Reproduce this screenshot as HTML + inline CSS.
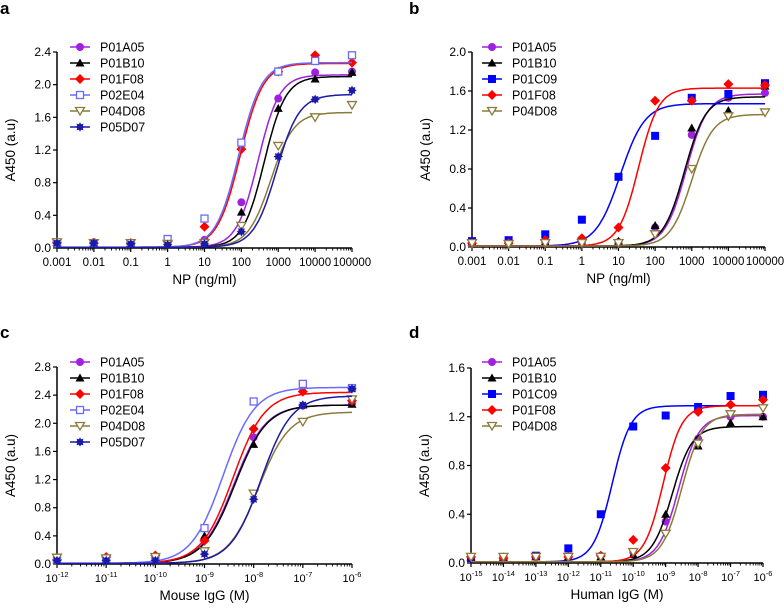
<!DOCTYPE html>
<html><head><meta charset="utf-8">
<style>
html,body{margin:0;padding:0;background:#fff;}
svg{display:block;font-family:"Liberation Sans",Arial,sans-serif;}
</style></head>
<body>
<svg id="chart" width="784" height="609" viewBox="0 0 784 609" xmlns="http://www.w3.org/2000/svg"></svg>
<script>
// ---------- Panel a data ----------
const aXs = [-3,-2,-1,0,1,2,3,4,5];
const aNames = ["P01A05","P01B10","P01F08","P02E04","P04D08","P05D07"];
const aVals = [
 [0.07,0.07,0.06,0.06,0.10,0.56,1.83,2.15,2.16],
 [0.07,0.06,0.06,0.05,0.05,0.44,1.71,2.07,2.15],
 [0.07,0.06,0.06,0.08,0.26,1.21,2.16,2.36,2.27],
 [0.06,0.06,0.06,0.11,0.36,1.29,2.16,2.29,2.36],
 [0.07,0.06,0.06,0.05,0.06,0.27,1.25,1.60,1.75],
 [0.06,0.06,0.05,0.04,0.05,0.20,1.12,1.82,1.93]];
const aTops = [2.12,2.10,2.26,2.27,1.66,1.88];
const aEC50 = [2.45,2.62,1.97,1.93,2.8,2.95];
const aHill = [1.5,1.5,1.4,1.4,1.4,1.4];
const aXLabels = ["0.001","0.01","0.1","1","10","100","1000","10000","100000"];
const aYTicks = [0,0.4,0.8,1.2,1.6,2.0,2.4];
// ---------- Panel b data ----------
const bXs = [-3,-2,-1,0,1,2,3,4,5];
const bNames = ["P01A05","P01B10","P01C09","P01F08","P04D08"];
const bVals = [
 [0.05,0.04,0.05,0.04,0.05,0.20,1.15,1.53,1.58],
 [0.05,0.04,0.05,0.04,0.06,0.22,1.22,1.40,1.65],
 [0.06,0.07,0.13,0.28,0.72,1.14,1.53,1.57,1.68],
 [0.04,0.04,0.07,0.09,0.20,1.50,1.50,1.67,1.66],
 [0.04,0.03,0.04,0.04,0.04,0.13,0.80,1.34,1.38]];
const bTops = [1.57,1.54,1.47,1.63,1.36];
const bEC50 = [2.85,2.8,1.05,1.55,3.0];
const bHill = [1.5,1.5,1.3,1.6,1.5];
const bXLabels = ["0.001","0.01","0.1","1","10","100","1000","10000","100000"];
const bYTicks = [0,0.4,0.8,1.2,1.6,2.0];
// ---------- Panel c data ----------
const cXs = [-12,-11,-10,-9,-8,-7,-6];
const cNames = ["P01A05","P01B10","P01F08","P02E04","P04D08","P05D07"];
const cVals = [
 [0.07,0.08,0.10,0.35,1.80,2.25,2.28],
 [0.06,0.06,0.08,0.40,1.70,2.26,2.27],
 [0.06,0.10,0.12,0.33,1.92,2.45,2.32],
 [0.06,0.06,0.08,0.51,2.31,2.56,2.50],
 [0.09,0.08,0.10,0.18,1.00,2.02,2.34],
 [0.05,0.05,0.05,0.14,0.92,2.26,2.49]];
const cTops = [2.26,2.26,2.44,2.51,2.16,2.39];
const cEC50 = [-8.4,-8.38,-8.42,-8.62,-7.9,-7.85];
const cHill = [1.35,1.35,1.35,1.35,1.4,1.4];
const cXLabels = ["-12","-11","-10","-9","-8","-7","-6"];
const cYTicks = [0,0.4,0.8,1.2,1.6,2.0,2.4,2.8];
// ---------- Panel d data ----------
const dXs = [-15,-14,-13,-12,-11,-10,-9,-8,-7,-6];
const dNames = ["P01A05","P01B10","P01C09","P01F08","P04D08"];
const dVals = [
 [0.05,0.05,0.05,0.05,0.06,0.09,0.34,1.02,1.20,1.20],
 [0.05,0.05,0.05,0.05,0.05,0.07,0.40,0.96,1.15,1.20],
 [0.04,0.04,0.06,0.12,0.40,1.12,1.21,1.28,1.37,1.38],
 [0.05,0.04,0.05,0.05,0.06,0.19,0.78,1.24,1.30,1.34],
 [0.05,0.05,0.05,0.05,0.05,0.09,0.24,0.98,1.22,1.27]];
const dTops = [1.21,1.12,1.29,1.29,1.22];
const dEC50 = [-8.6,-8.8,-10.65,-9.08,-8.5];
const dHill = [1.4,1.4,1.5,1.5,1.4];
const dXLabels = ["-15","-14","-13","-12","-11","-10","-9","-8","-7","-6"];
const dYTicks = [0,0.4,0.8,1.2,1.6];

const STYLE = {
 "P01A05":{c:"#a020e0",m:"circle"},
 "P01B10":{c:"#000000",m:"tri"},
 "P01C09":{c:"#0000ff",m:"square"},
 "P01F08":{c:"#ff0000",m:"diamond"},
 "P02E04":{c:"#6a6aff",m:"osquare"},
 "P04D08":{c:"#8b7a3a",m:"otri"},
 "P05D07":{c:"#1a1aa8",m:"star"}
};
const NS="http://www.w3.org/2000/svg";
const svg=document.getElementById('chart');
function mk(tag,attrs,parent){const e=document.createElementNS(NS,tag);for(const k in attrs)e.setAttribute(k,attrs[k]);(parent||svg).appendChild(e);return e;}

function marker(g,type,color,x,y){
  let e;
  if(type==="circle"){e=mk('circle',{cx:x,cy:y,r:4,fill:color},g);}
  else if(type==="tri"){e=mk('polygon',{points:`${x},${y-4.5} ${x+4.5},${y+3.5} ${x-4.5},${y+3.5}`,fill:color},g);}
  else if(type==="square"){e=mk('rect',{x:x-4,y:y-4,width:8,height:8,fill:color},g);}
  else if(type==="diamond"){e=mk('polygon',{points:`${x},${y-5} ${x+5},${y} ${x},${y+5} ${x-5},${y}`,fill:color},g);}
  else if(type==="osquare"){e=mk('rect',{x:x-3.5,y:y-3.5,width:7,height:7,fill:"#fff",stroke:color,'stroke-width':1.3},g);}
  else if(type==="otri"){e=mk('polygon',{points:`${x-4.5},${y-3.5} ${x+4.5},${y-3.5} ${x},${y+4}`,fill:"#fff",stroke:color,'stroke-width':1.3},g);}
  else {let p=[];for(let i=0;i<16;i++){const r=i%2?3:4.8;const a=i*Math.PI/8;p.push((x+r*Math.cos(a)).toFixed(1)+","+(y+r*Math.sin(a)).toFixed(1));}
    e=mk('polygon',{points:p.join(' '),fill:color},g);}
  
  
  return e;
}

function panel(id,L,xs,names,vals,tops,ec50,hill,xLabels,yTicks,xTitle,sup){
  const g=mk('g',{});
  
  
  const lmin=xs[0],lmax=xs[xs.length-1],ymax=yTicks[yTicks.length-1];
  const X=lx=>L.x0+(lx-lmin)/(lmax-lmin)*(L.x1-L.x0);
  const Y=v=>L.y0-v/ymax*(L.y0-L.y1);
  const lab=mk('text',{x:L.lx,y:L.ly,'font-size':17,'font-weight':'bold'},g);lab.textContent=id;
  
  const ya=mk('line',{x1:L.x0,y1:L.y0,x2:L.x0,y2:L.y1,stroke:'#000','stroke-width':1.5},g);
  
  const xa=mk('line',{x1:L.x0,y1:L.y0,x2:L.x1,y2:L.y0,stroke:'#000','stroke-width':1.5},g);
  
  yTicks.forEach(t=>{const y=Y(t);mk('line',{x1:L.x0-4,y1:y,x2:L.x0,y2:y,stroke:'#000','stroke-width':1.2},g);
    const tx=mk('text',{x:L.x0-6,y:y+4,'font-size':12,'text-anchor':'end'},g);tx.textContent=t.toFixed(1);
    });
  xs.forEach((lx,i)=>{const x=X(lx);mk('line',{x1:x,y1:L.y0,x2:x,y2:L.y0+4,stroke:'#000','stroke-width':1.2},g);
    if(i<xs.length-1){for(let k=2;k<10;k++){const mx=X(lx+Math.log10(k));mk('line',{x1:mx,y1:L.y0,x2:mx,y2:L.y0+2.5,stroke:'#000','stroke-width':0.9},g);}}
    const tx=mk('text',{x:x,y:L.y0+18,'font-size':sup?11:11.5,'text-anchor':'middle'},g);
    if(sup){tx.textContent='10';const ts=mk('tspan',{dy:-5,'font-size':7.5},tx);ts.textContent=xLabels[i];}
    else tx.textContent=xLabels[i];
    });
  const xt=mk('text',{x:(L.x0+L.x1)/2,y:L.y0+36,'font-size':13.5,'text-anchor':'middle'},g);xt.textContent=xTitle;
  
  const yc=(L.y0+L.y1)/2;
  const yt=mk('text',{x:L.x0-42,y:yc,'font-size':13.5,'text-anchor':'middle',transform:`rotate(-90 ${L.x0-42} ${yc})`},g);yt.textContent='A450 (a.u)';
  
  names.forEach((n,si)=>{
    const st=STYLE[n];
    const sg=mk('g',{},g);
    
    
    let d='';
    for(let lx=lmin;lx<=lmax+1e-9;lx+=0.04){const v=0.01+(tops[si]-0.01)/(1+Math.pow(10,(ec50[si]-lx)*hill[si]));
      d+=(d?'L':'M')+X(lx).toFixed(1)+','+Y(v).toFixed(1);}
    const p=mk('path',{d:d,fill:'none',stroke:st.c,'stroke-width':1.5},sg);
    
    vals[si].forEach((v,i)=>marker(sg,st.m,st.c,X(xs[i]),Y(v)));
    const ly=L.legY+si*16;
    const lg=mk('g',{},g);
    
    
    mk('line',{x1:L.legX-10,y1:ly,x2:L.legX+10,y2:ly,stroke:st.c,'stroke-width':1.5},lg);
    marker(lg,st.m,st.c,L.legX,ly);
    const t=mk('text',{x:L.legX+20,y:ly+4.5,'font-size':12.5},lg);t.textContent=n;
  });
}
panel('a',{x0:57,x1:352,y0:248,y1:52,lx:0,ly:14,legX:80,legY:47},aXs,aNames,aVals,aTops,aEC50,aHill,aXLabels,aYTicks,'NP (ng/ml)',false);
panel('b',{x0:472,x1:765,y0:247,y1:52,lx:409,ly:14,legX:492,legY:47},bXs,bNames,bVals,bTops,bEC50,bHill,bXLabels,bYTicks,'NP (ng/ml)',false);
panel('c',{x0:57,x1:352,y0:564,y1:367,lx:0,ly:338,legX:80,legY:362},cXs,cNames,cVals,cTops,cEC50,cHill,cXLabels,cYTicks,'Mouse IgG (M)',true);
panel('d',{x0:471,x1:763,y0:563,y1:368,lx:409,ly:338,legX:492,legY:362},dXs,dNames,dVals,dTops,dEC50,dHill,dXLabels,dYTicks,'Human IgG (M)',true);
</script>
</body></html>
